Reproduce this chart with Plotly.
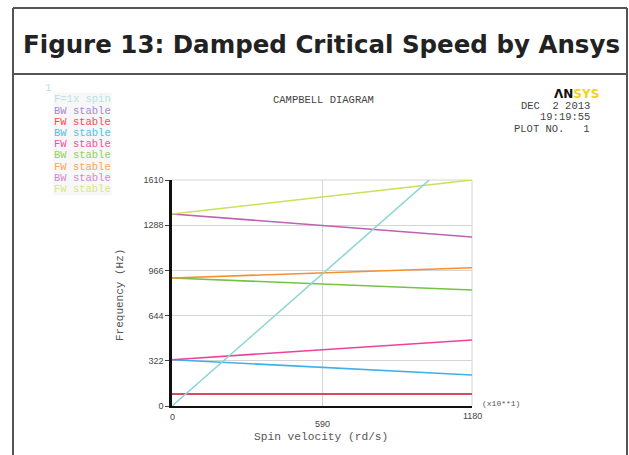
import plotly.graph_objects as go

W, H = 629, 455

# ---- data ----
spin_x = [0, 1180]                       # spin velocity (x10**1 rd/s)
excitation_x = [0, 1012]                 # F=1x spin line end points
excitation_y = [0, 1610]
mode_names = ["BW stable", "FW stable", "BW stable", "FW stable",
              "BW stable", "FW stable", "BW stable", "FW stable"]
mode_start = [85, 85, 330, 330, 912, 912, 1368, 1368]
mode_end = [85, 86, 221, 470, 826, 985, 1204, 1610]
line_colors = ["#9a7ac8", "#e03038", "#40b0e8", "#f0409c",
               "#74c444", "#f59030", "#c060b4", "#cce058"]
legend_colors = ["#a48ad0", "#ff4a4a", "#58bce8", "#f050a0",
                 "#94d064", "#ffa458", "#d488cc", "#d8e884"]
spin_color = "#8ed6d6"
y_ticks = [0, 322, 644, 966, 1288, 1610]
x_ticks = [0, 590, 1180]

# ---- pixel helpers for paper coordinates ----
def px(x):
    return x / W

def py(y):
    return 1 - y / H

fig = go.Figure()
for name, s, e, c in zip(mode_names, mode_start, mode_end, line_colors):
    fig.add_trace(go.Scatter(x=spin_x, y=[s, e], mode="lines", name=name,
                             line=dict(color=c, width=1.6)))
fig.add_trace(go.Scatter(x=excitation_x, y=excitation_y, mode="lines",
                         name="F=1x spin", line=dict(color=spin_color, width=1.6)))

MONO = "Liberation Mono"
SANS = "Liberation Sans"

fig.update_layout(
    width=W, height=H, margin=dict(l=0, r=0, t=0, b=0),
    paper_bgcolor="white", plot_bgcolor="white", showlegend=False,
    xaxis=dict(domain=[px(172), px(472)], range=[0, 1180], tickvals=x_ticks,
               showticklabels=False, showgrid=True, gridcolor="#d4d4d4", gridwidth=1,
               zeroline=False, showline=True, linecolor="#111", linewidth=2,
               ticks="", automargin=False, fixedrange=True),
    yaxis=dict(domain=[py(406), py(180)], range=[0, 1610], tickvals=y_ticks,
               ticktext=[str(v) for v in y_ticks],
               tickfont=dict(family=SANS, size=9, color="#444"),
               showgrid=True, gridcolor="#d4d4d4", gridwidth=1,
               zeroline=False, showline=True, linecolor="#111", linewidth=2.5,
               ticks="outside", ticklen=4, tickcolor="#444", tickwidth=1,
               automargin=False, fixedrange=True),
)

shapes = []
# plot border (top and right) in light gray
shapes.append(dict(type="line", xref="paper", yref="paper", x0=px(172), x1=px(472),
                   y0=py(180), y1=py(180), line=dict(color="#d4d4d4", width=1), layer="below"))
shapes.append(dict(type="line", xref="paper", yref="paper", x0=px(472), x1=px(472),
                   y0=py(180), y1=py(406), line=dict(color="#d4d4d4", width=1), layer="below"))
# page frame
frame = dict(color="#555", width=2)
shapes.append(dict(type="line", xref="paper", yref="paper", x0=px(13), x1=px(13),
                   y0=py(8), y1=py(460), line=frame))
shapes.append(dict(type="line", xref="paper", yref="paper", x0=px(627), x1=px(627),
                   y0=py(8), y1=py(460), line=frame))
shapes.append(dict(type="line", xref="paper", yref="paper", x0=px(13), x1=px(627),
                   y0=py(8), y1=py(8), line=frame))
shapes.append(dict(type="line", xref="paper", yref="paper", x0=px(13), x1=px(627),
                   y0=py(74), y1=py(74), line=frame))
fig.update_layout(shapes=shapes)

ann = []

def text(x, y, t, size, color="#333", family=MONO, xanchor="left", bold=False,
         xref="paper", yref="paper", textangle=0, bgcolor=None):
    d = dict(x=x, y=y, xref=xref, yref=yref, text=(f"<b>{t}</b>" if bold else t),
             showarrow=False, xanchor=xanchor, yanchor="middle",
             font=dict(family=family, size=size, color=color), textangle=textangle)
    if bgcolor:
        d["bgcolor"] = bgcolor
        d["borderpad"] = 0
    ann.append(d)

# title
text(px(321), py(45), "Figure 13: Damped Critical Speed by Ansys", 24.5, color="#222",
     family="DejaVu Sans", xanchor="center", bold=True)

# header texts
text(px(323), py(100), "CAMPBELL DIAGRAM", 10.5, color="#444", xanchor="center")
text(px(592), py(106), "DEC&nbsp;&nbsp;2&nbsp;2013", 10.5, color="#444", xanchor="right")
text(px(592), py(117), "19:19:55", 10.5, color="#444", xanchor="right")
text(px(592), py(129), "PLOT&nbsp;NO.&nbsp;&nbsp;&nbsp;1", 10.5, color="#444", xanchor="right")
text(px(552), py(94), "<b>ΛN</b><span style='color:#f2d21a'><b>SYS</b></span>", 12,
     color="#111", family="DejaVu Sans", xanchor="left")

# legend
text(px(43), py(88), "1", 10.5, color="#b8e4e4")
text(px(53), py(99), "F=1x&nbsp;spin", 10.5, color="#b8e4e4", bgcolor="#f7f7f7")
for i, (name, c) in enumerate(zip(mode_names, legend_colors)):
    text(px(53), py(111 + 11.1 * i), name.replace(" ", "&nbsp;"), 10.5, color=c,
         bgcolor="#f7f7f7")

# axis titles
text(px(120), py(295), "Frequency&nbsp;(Hz)", 11, color="#555", xanchor="center",
     textangle=-90)
text(px(321), py(437), "Spin&nbsp;velocity&nbsp;(rd/s)", 11.2, color="#555",
     xanchor="center")
text(px(480), py(403), "(x10**1)", 8, color="#555")

# x tick labels (staggered as in ANSYS)
x_label_y = [417, 423.5, 416]
for v, yy in zip(x_ticks, x_label_y):
    ann.append(dict(x=v, y=py(yy), xref="x", yref="paper", text=str(v), showarrow=False,
                    xanchor="center", yanchor="middle",
                    font=dict(family=SANS, size=9, color="#444")))

fig.update_layout(annotations=ann)
fig.write_html("out.html")
